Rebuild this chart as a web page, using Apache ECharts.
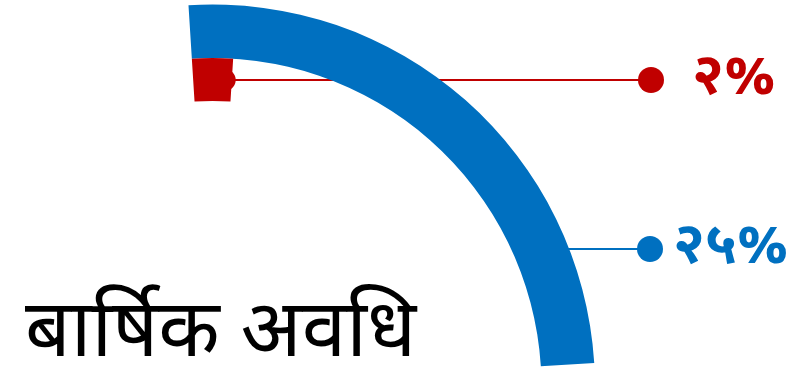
<!DOCTYPE html>
<html>
<head>
<meta charset="utf-8">
<title>बार्षिक अवधि</title>
<script src="https://cdn.jsdelivr.net/npm/echarts@6/dist/echarts.min.js"></script>
<style>
  html, body { margin: 0; padding: 0; background: #fff; }
  #chart { width: 811px; height: 375px; }
</style>
</head>
<body>
<div id="chart"></div>
<script>
// data
var ringNames = ['लक्ष्य', 'प्रगति'];
var ringValues = [2, 25];          // percent of full circle
var ringLabels = ['२%', '२५%'];
var titleText = 'बार्षिक अवधि';

var colors = ['#C00000', '#0070C0'];
var fontFamily = '"Noto Sans Devanagari", "Lohit Devanagari", "Noto Sans", sans-serif';

// ring geometry (centre sits below the visible area)
var cx = 212.5, cy = 387;
var radii = [[286, 329], [329, 382.5]];
var startAngle = 93.6;
// where the label lines end (dot centre) and gap to the text
var labelAt = [{ y: 80, dotX: 651, gap: 28, startX: 224.7 }, { y: 249, dotX: 650, gap: 10, startX: null }];

var chart = echarts.init(document.getElementById('chart'));

function ringSeries(i) {
  var pos = labelAt[i];
  return {
    type: 'pie',
    center: [cx, cy],
    radius: radii[i],
    startAngle: startAngle,
    clockwise: true,
    silent: true,
    avoidLabelOverlap: false,
    itemStyle: { borderWidth: 0 },
    label: {
      show: true,
      position: 'outside',
      formatter: function () { return '{dot|}{t|' + ringLabels[i] + '}'; },
      rich: {
        dot: { width: 26, height: 26, borderRadius: 13, backgroundColor: colors[i] },
        t: { color: colors[i], fontSize: 57, fontWeight: 'bold', fontFamily: fontFamily, padding: [6, 0, 0, pos.gap] }
      }
    },
    labelLine: { show: true, lineStyle: { color: colors[i], width: 2 } },
    labelLayout: function (params) {
      if (params.dataIndex !== 0) return {};
      var sx = pos.startX;
      if (sx === null) {
        var dy = cy - pos.y;
        sx = cx + Math.sqrt(radii[i][1] * radii[i][1] - dy * dy) - 3;
      }
      return {
        x: pos.dotX - 13,
        y: pos.y,
        align: 'left',
        verticalAlign: 'middle',
        labelLinePoints: [[sx, pos.y], [sx, pos.y], [pos.dotX, pos.y]]
      };
    },
    data: [
      { name: ringNames[i], value: ringValues[i], itemStyle: { color: colors[i] } },
      {
        name: '', value: 100 - ringValues[i],
        itemStyle: { color: 'rgba(0,0,0,0)' },
        label: { show: false }, labelLine: { show: false }
      }
    ]
  };
}

chart.setOption({
  animation: false,
  title: {
    text: titleText,
    left: 20,
    top: 296,
    textStyle: { fontSize: 80, fontWeight: 'normal', color: '#000', fontFamily: fontFamily }
  },
  graphic: [{
    type: 'circle',
    z: 100,
    shape: { cx: labelAt[0].startX, cy: labelAt[0].y, r: 11 },
    style: { fill: colors[0] }
  }],
  series: [ringSeries(1), ringSeries(0)]
});
</script>
</body>
</html>
